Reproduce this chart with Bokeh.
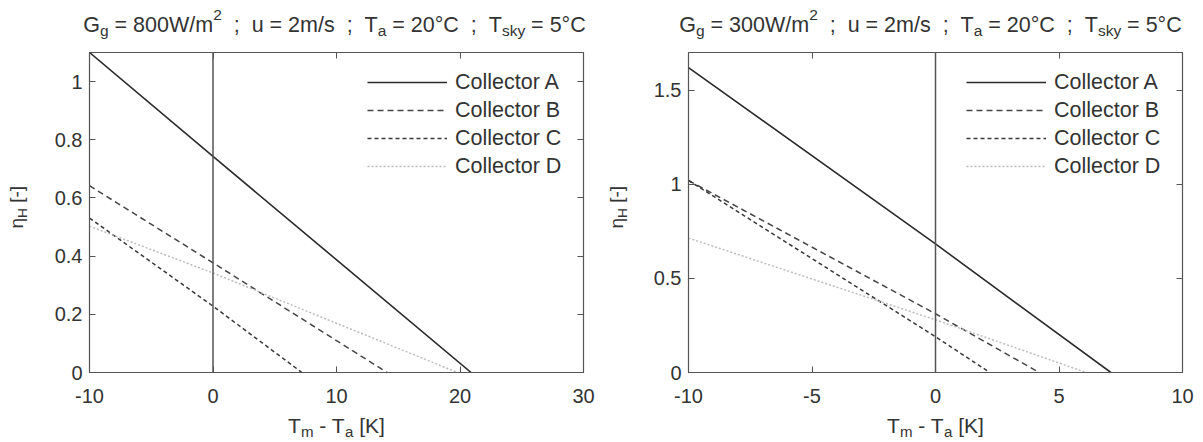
import math
import re
from bokeh.plotting import figure
from bokeh.models import (Range1d, FixedTicker, LinearAxis, Span, Legend,
                          LegendItem, Label)
from bokeh.layouts import row, column
from bokeh.embed import file_html
from bokeh.resources import INLINE

# ---------------- data ----------------
collectors = ["Collector A", "Collector B", "Collector C", "Collector D"]

# Left panel: G_g = 800 W/m2
left_x_A = [-10, 0, 20.9]
left_eta_A = [1.10, 0.743, 0.0]
left_x_B = [-10, 0, 14.1]
left_eta_B = [0.642, 0.377, 0.0]
left_x_C = [-10, 0, 7.2]
left_eta_C = [0.531, 0.228, 0.0]
left_x_D = [-10, 0, 19.8]
left_eta_D = [0.503, 0.342, 0.0]

# Right panel: G_g = 300 W/m2
right_x_A = [-10, 0, 7.1]
right_eta_A = [1.62, 0.683, 0.0]
right_x_B = [-10, 0, 4.2]
right_eta_B = [1.02, 0.312, 0.0]
right_x_C = [-10, 0, 2.2]
right_eta_C = [1.02, 0.19, 0.0]
right_x_D = [-10, 0, 6.1]
right_eta_D = [0.714, 0.28, 0.0]

left_xticks = [-10, 0, 10, 20, 30]
left_xtick_labels = ["-10", "0", "10", "20", "30"]
left_yticks = [0, 0.2, 0.4, 0.6, 0.8, 1]
left_ytick_labels = ["0", "0.2", "0.4", "0.6", "0.8", "1"]
right_xticks = [-10, -5, 0, 5, 10]
right_xtick_labels = ["-10", "-5", "0", "5", "10"]
right_yticks = [0, 0.5, 1, 1.5]
right_ytick_labels = ["0", "0.5", "1", "1.5"]

left_title = [("G", "n"), ("g", "sub"), (" = 800W/m", "n"), ("2", "sup"),
              ("  ;  u = 2m/s  ;  T", "n"), ("a", "sub"), (" = 20°C  ;  T", "n"),
              ("sky", "sub"), (" = 5°C", "n")]
right_title = [("G", "n"), ("g", "sub"), (" = 300W/m", "n"), ("2", "sup"),
               ("  ;  u = 2m/s  ;  T", "n"), ("a", "sub"), (" = 20°C  ;  T", "n"),
               ("sky", "sub"), (" = 5°C", "n")]
xlabel = [("T", "n"), ("m", "sub"), (" - T", "n"), ("a", "sub"), (" [K]", "n")]
ylabel = [("η", "n"), ("H", "sub"), (" [-]", "n")]

# ---------------- styling ----------------
FONT = "Liberation Sans"
TXT = "#333333"
FRAME = "#555555"
styles = [
    dict(line_color="#2b2b2b", line_width=1.6, line_dash="solid"),
    dict(line_color="#454545", line_width=1.5, line_dash="6 4"),
    dict(line_color="#383838", line_width=1.5, line_dash="4 3"),
    dict(line_color="#bcbcbc", line_width=1.5, line_dash="2 2"),
]

AW = {' ': 278, ';': 278, '=': 584, '/': 278, '°': 400, '-': 333, '[': 278,
      ']': 278, 'A': 667, 'C': 722, 'G': 778, 'H': 722, 'K': 667, 'T': 611,
      'W': 944, 'a': 556, 'g': 556, 'k': 500, 'm': 833, 's': 500, 'u': 556,
      'y': 500, 'η': 556}


def tw(s, size):
    return sum(AW.get(c, 556) for c in s) * size / 1000.0


def text_fig(w, h):
    f = figure(width=w, height=h, x_range=Range1d(0, w), y_range=Range1d(0, h),
               x_axis_type=None, y_axis_type=None, min_border=0,
               toolbar_location=None, output_backend="svg",
               title_location=None, outline_line_color=None,
               background_fill_color="white", border_fill_color="white")
    f.grid.visible = False
    return f


def mixed(p, pieces, cx, cy, size, rotate=False):
    sub = 0.72 * size
    items = []
    adv = 0.0
    for t, kind in pieces:
        fs = size if kind == "n" else sub
        if kind == "sub":
            shift = -0.30 * size
        elif kind == "sup":
            shift = 0.42 * size
        else:
            shift = 0.0
        for m in re.finditer(r"\S+(?: \S+)*", t):
            items.append((m.group(0), fs, adv + tw(t[:m.start()], fs), shift))
        adv += tw(t, fs)
    start = -adv / 2.0
    for body, fs, a, shift in items:
        if not rotate:
            lab = Label(x=cx, y=cy, x_offset=start + a, y_offset=shift,
                        text=body, text_font=FONT, text_font_size=f"{fs:.1f}px",
                        text_color=TXT, text_align="left", text_baseline="alphabetic")
        else:
            lab = Label(x=cx, y=cy, angle=math.pi / 2, x_offset=-shift,
                        y_offset=start + a,
                        text=body, text_font=FONT, text_font_size=f"{fs:.1f}px",
                        text_color=TXT, text_align="left", text_baseline="alphabetic")
        p.add_layout(lab)


def make_panel(xs, ys, xr, yr, xt, xtl, yt, ytl, left_border, right_border):
    p = figure(frame_width=494, frame_height=320, x_range=Range1d(*xr),
               y_range=Range1d(*yr), output_backend="svg", toolbar_location=None,
               min_border_left=left_border, min_border_right=right_border,
               min_border_top=8, min_border_bottom=40, title_location=None,
               background_fill_color="white", border_fill_color="white")
    p.grid.visible = False
    p.outline_line_color = FRAME
    p.outline_line_width = 1.2

    for ax, ticks, labels in ((p.xaxis[0], xt, xtl), (p.yaxis[0], yt, ytl)):
        ax.ticker = FixedTicker(ticks=ticks)
        ax.major_label_overrides = {t: l for t, l in zip(ticks, labels)}
        ax.major_tick_in = 6
        ax.major_tick_out = 0
        ax.minor_tick_line_color = None
        ax.axis_line_color = FRAME
        ax.major_tick_line_color = FRAME
        ax.major_label_text_font = FONT
        ax.major_label_text_font_size = "20px"
        ax.major_label_text_color = TXT
    p.xaxis[0].major_label_standoff = 16
    p.yaxis[0].major_label_standoff = 7

    top = LinearAxis(ticker=FixedTicker(ticks=xt),
                     major_label_overrides={t: "" for t in xt})
    rgt = LinearAxis(ticker=FixedTicker(ticks=yt),
                     major_label_overrides={t: "" for t in yt})
    for ax in (top, rgt):
        ax.major_tick_in = 6
        ax.major_tick_out = 0
        ax.minor_tick_line_color = None
        ax.axis_line_color = FRAME
        ax.major_tick_line_color = FRAME
        ax.major_label_text_font_size = "1px"
        ax.major_label_standoff = 0
    p.add_layout(top, "above")
    p.add_layout(rgt, "right")

    p.add_layout(Span(location=0, dimension="height", line_color=FRAME, line_width=1.5))

    items = []
    for name, x, y, st in zip(collectors, xs, ys, styles):
        r = p.line(x, y, **st)
        items.append(LegendItem(label=name, renderers=[r]))
    leg = Legend(items=items, location=(278, 192))
    leg.border_line_alpha = 0
    leg.background_fill_alpha = 0
    leg.glyph_width = 80
    leg.glyph_height = 28
    leg.label_height = 28
    leg.spacing = 0
    leg.padding = 0
    leg.margin = 0
    leg.label_standoff = 8
    leg.label_text_font = FONT
    leg.label_text_font_size = "21.5px"
    leg.label_text_color = TXT
    p.add_layout(leg)
    return p


# ---- left panel pieces ----
t1 = text_fig(600, 44)
mixed(t1, left_title, 334, 20, 21.5)
y1 = text_fig(48, 368)
mixed(y1, ylabel, 16, 190, 19, rotate=True)
m1 = make_panel([left_x_A, left_x_B, left_x_C, left_x_D],
                [left_eta_A, left_eta_B, left_eta_C, left_eta_D],
                (-10, 30), (0, 1.1), left_xticks, left_xtick_labels,
                left_yticks, left_ytick_labels, 41, 17)
x1 = text_fig(600, 30)
mixed(x1, xlabel, 336, 17, 21)

# ---- right panel pieces ----
t2 = text_fig(595, 44)
mixed(t2, right_title, 330, 20, 21.5)
y2 = text_fig(40, 368)
mixed(y2, ylabel, 16, 190, 19, rotate=True)
m2 = make_panel([right_x_A, right_x_B, right_x_C, right_x_D],
                [right_eta_A, right_eta_B, right_eta_C, right_eta_D],
                (-10, 10), (0, 1.7), right_xticks, right_xtick_labels,
                right_yticks, right_ytick_labels, 48, 13)
x2 = text_fig(595, 30)
mixed(x2, xlabel, 335, 17, 21)

layout = column(row(t1, t2), row(y1, m1, y2, m2), row(x1, x2))
open("out.html", "w").write(file_html(layout, INLINE))
